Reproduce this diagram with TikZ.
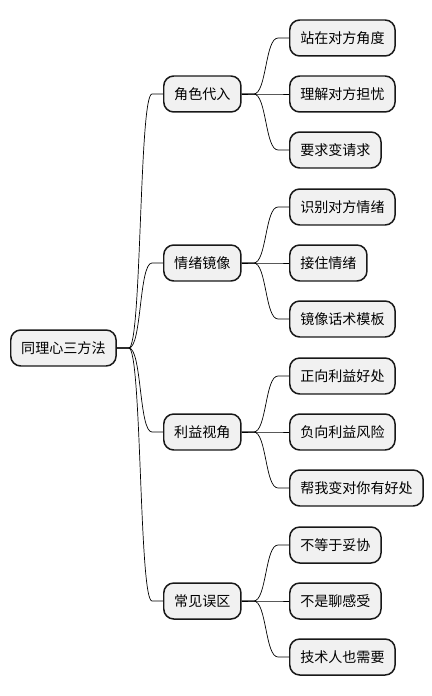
\documentclass[tikz,border=0pt]{standalone}
\usepackage{fontspec}
\setmainfont{Noto Sans CJK SC}
\usepackage{tikz}
\usepackage{xcolor}
\usetikzlibrary{calc}

\definecolor{boxfill}{HTML}{F1F1F1}
\definecolor{boxline}{HTML}{181818}

\tikzset{
  topic/.style={rectangle, rounded corners=0.2cm, draw=boxline, line width=0.85pt, fill=boxfill,
    minimum height=0.72cm, inner xsep=0.21cm, inner ysep=0pt, anchor=west,
    font=\fontsize{8}{10}\selectfont},
  branch/.style={draw=boxline, line width=0.6pt,
    to path={-- ++(12,0) .. controls +(13,0) and +(-13,0) .. ($(\tikztotarget.west)+(-11,0)$) -- (\tikztotarget.west)}}
}

\begin{document}
\begin{tikzpicture}[x=0.02cm, y=-0.02cm]
\useasboundingbox (0,0) rectangle (432,696);

\node[topic] (root) at (10,348) {同理心三方法};

\node[topic] (role) at (163,94) {角色代入};
\node[topic] (mirror) at (163,263) {情绪镜像};
\node[topic] (gain) at (163,432) {利益视角};
\node[topic] (trap) at (163,601) {常见误区};

\node[topic] (role1) at (289,38) {站在对方角度};
\node[topic] (role2) at (289,94) {理解对方担忧};
\node[topic] (role3) at (289,150) {要求变请求};

\node[topic] (mirror1) at (289,207) {识别对方情绪};
\node[topic] (mirror2) at (289,263) {接住情绪};
\node[topic] (mirror3) at (289,319) {镜像话术模板};

\node[topic] (gain1) at (289,376) {正向利益好处};
\node[topic] (gain2) at (289,432) {负向利益风险};
\node[topic] (gain3) at (289,488) {帮我变对你有好处};

\node[topic] (trap1) at (289,545) {不等于妥协};
\node[topic] (trap2) at (289,601) {不是聊感受};
\node[topic] (trap3) at (289,657) {技术人也需要};

\draw (root.east) to[branch] (role);
\draw (root.east) to[branch] (mirror);
\draw (root.east) to[branch] (gain);
\draw (root.east) to[branch] (trap);

\draw (role.east) to[branch] (role1);
\draw (role.east) to[branch] (role2);
\draw (role.east) to[branch] (role3);
\draw (mirror.east) to[branch] (mirror1);
\draw (mirror.east) to[branch] (mirror2);
\draw (mirror.east) to[branch] (mirror3);
\draw (gain.east) to[branch] (gain1);
\draw (gain.east) to[branch] (gain2);
\draw (gain.east) to[branch] (gain3);
\draw (trap.east) to[branch] (trap1);
\draw (trap.east) to[branch] (trap2);
\draw (trap.east) to[branch] (trap3);
\end{tikzpicture}
\end{document}
